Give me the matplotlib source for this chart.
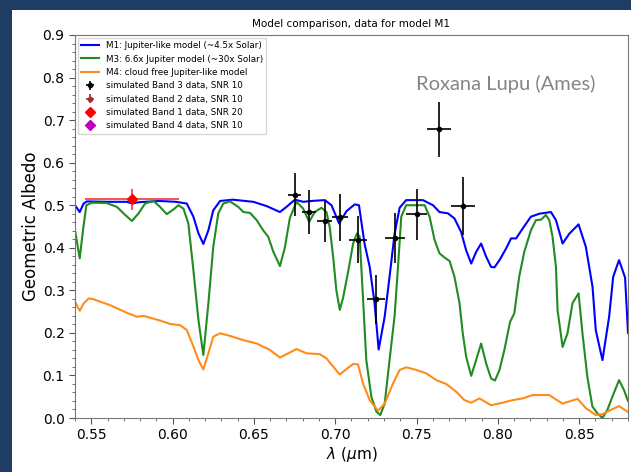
import numpy as np
import matplotlib.pyplot as plt
from matplotlib.patches import Rectangle
from matplotlib.ticker import MultipleLocator

# model albedo spectra: (wavelength [um], geometric albedo)
m1_spec = [(0.540, 0.500), (0.5429, 0.484), (0.5453, 0.504), (0.5474, 0.509), (0.560, 0.508),
           (0.572, 0.508), (0.575, 0.504), (0.579, 0.507), (0.592, 0.510), (0.602, 0.508),
           (0.6087, 0.504), (0.6128, 0.473), (0.6159, 0.434), (0.6189, 0.409), (0.622, 0.441),
           (0.625, 0.488), (0.6292, 0.510), (0.637, 0.513), (0.6496, 0.508), (0.6578, 0.498),
           (0.666, 0.484), (0.670, 0.496), (0.6752, 0.513), (0.6803, 0.508), (0.6854, 0.510),
           (0.6936, 0.512), (0.6977, 0.500), (0.7024, 0.457), (0.7069, 0.486), (0.7120, 0.502),
           (0.7146, 0.500), (0.718, 0.410), (0.7212, 0.355), (0.7242, 0.269), (0.7267, 0.161),
           (0.7304, 0.238), (0.7334, 0.332), (0.7365, 0.433), (0.7396, 0.494), (0.7436, 0.512),
           (0.7539, 0.512), (0.7601, 0.500), (0.7641, 0.484), (0.7692, 0.481), (0.7733, 0.469),
           (0.7774, 0.437), (0.7805, 0.394), (0.7836, 0.363), (0.7866, 0.390), (0.7897, 0.410),
           (0.7928, 0.379), (0.7958, 0.355), (0.7979, 0.354), (0.801, 0.371), (0.805, 0.398),
           (0.8081, 0.422), (0.8112, 0.422), (0.8152, 0.445), (0.8203, 0.473), (0.8255, 0.480),
           (0.8326, 0.484), (0.8357, 0.465), (0.8398, 0.410), (0.8439, 0.433), (0.8496, 0.455),
           (0.8541, 0.402), (0.8582, 0.308), (0.8602, 0.206), (0.8643, 0.136), (0.8684, 0.238),
           (0.8709, 0.332), (0.8745, 0.371), (0.8782, 0.330), (0.8796, 0.230), (0.880, 0.200)]

m3_spec = [(0.540, 0.441), (0.5429, 0.375), (0.5449, 0.441), (0.547, 0.500), (0.5504, 0.506),
           (0.5596, 0.505), (0.5658, 0.496), (0.5709, 0.477), (0.575, 0.463), (0.5791, 0.481),
           (0.5831, 0.504), (0.5883, 0.510), (0.5923, 0.496), (0.5964, 0.479), (0.6005, 0.490),
           (0.6036, 0.500), (0.6067, 0.492), (0.6097, 0.457), (0.6128, 0.347), (0.6159, 0.230),
           (0.6189, 0.148), (0.622, 0.269), (0.625, 0.402), (0.6281, 0.481), (0.6312, 0.504),
           (0.6353, 0.509), (0.6404, 0.496), (0.6435, 0.484), (0.6476, 0.482), (0.6517, 0.465),
           (0.6557, 0.441), (0.6588, 0.426), (0.6619, 0.391), (0.666, 0.357), (0.669, 0.400),
           (0.6721, 0.470), (0.6762, 0.508), (0.6803, 0.492), (0.684, 0.461), (0.6874, 0.484),
           (0.6915, 0.494), (0.6946, 0.484), (0.6966, 0.449), (0.6987, 0.379), (0.7007, 0.300),
           (0.7028, 0.254), (0.7048, 0.282), (0.7079, 0.343), (0.711, 0.410), (0.7134, 0.434),
           (0.715, 0.426), (0.7171, 0.280), (0.7191, 0.136), (0.7222, 0.050), (0.7253, 0.015),
           (0.7277, 0.007), (0.7304, 0.034), (0.7334, 0.136), (0.7365, 0.240), (0.7385, 0.350),
           (0.7406, 0.473), (0.7436, 0.500), (0.7550, 0.500), (0.758, 0.473), (0.7611, 0.418),
           (0.7641, 0.387), (0.7672, 0.377), (0.7703, 0.369), (0.7733, 0.332), (0.7764, 0.270),
           (0.7784, 0.199), (0.7805, 0.144), (0.7836, 0.099), (0.7866, 0.136), (0.7897, 0.175),
           (0.7928, 0.128), (0.7958, 0.093), (0.7982, 0.088), (0.801, 0.113), (0.804, 0.160),
           (0.8075, 0.226), (0.8101, 0.246), (0.8131, 0.332), (0.8162, 0.390), (0.8203, 0.441),
           (0.8234, 0.465), (0.8265, 0.466), (0.8295, 0.477), (0.8316, 0.465), (0.8336, 0.426),
           (0.8357, 0.355), (0.8367, 0.253), (0.8398, 0.167), (0.8428, 0.199), (0.8459, 0.270),
           (0.8496, 0.293), (0.852, 0.199), (0.855, 0.097), (0.8581, 0.027), (0.8612, 0.011),
           (0.8643, 0.000), (0.8673, 0.019), (0.8704, 0.050), (0.8745, 0.089), (0.8775, 0.066),
           (0.880, 0.040)]

m4_spec = [(0.540, 0.273), (0.5429, 0.252), (0.5453, 0.269), (0.5484, 0.281), (0.5514, 0.279),
           (0.5617, 0.265), (0.572, 0.247), (0.5781, 0.238), (0.5821, 0.240), (0.5923, 0.229),
           (0.5985, 0.221), (0.6046, 0.218), (0.6087, 0.207), (0.6128, 0.168), (0.6159, 0.136),
           (0.6189, 0.114), (0.622, 0.152), (0.625, 0.191), (0.6292, 0.199), (0.6353, 0.193),
           (0.6435, 0.183), (0.6517, 0.175), (0.6598, 0.160), (0.666, 0.142), (0.6711, 0.152),
           (0.6762, 0.162), (0.6823, 0.152), (0.6905, 0.150), (0.6946, 0.140), (0.6987, 0.121),
           (0.7028, 0.102), (0.7069, 0.115), (0.711, 0.127), (0.714, 0.126), (0.7171, 0.081),
           (0.7212, 0.042), (0.7263, 0.017), (0.7304, 0.034), (0.7355, 0.081), (0.7396, 0.113),
           (0.7437, 0.119), (0.7498, 0.113), (0.7559, 0.105), (0.7621, 0.089), (0.7682, 0.080),
           (0.7743, 0.062), (0.7794, 0.042), (0.7836, 0.036), (0.7887, 0.046), (0.7958, 0.030),
           (0.803, 0.036), (0.8091, 0.042), (0.8152, 0.046), (0.8214, 0.054), (0.8316, 0.054),
           (0.8347, 0.046), (0.8398, 0.034), (0.849, 0.045), (0.8541, 0.023), (0.8602, 0.007),
           (0.8643, 0.009), (0.8694, 0.019), (0.8745, 0.028), (0.8796, 0.015)]

# simulated observations
band3_wl = [0.675, 0.684, 0.6935, 0.703, 0.714, 0.725, 0.737, 0.750, 0.7637, 0.7788]
band3_alb = [0.525, 0.484, 0.462, 0.472, 0.419, 0.279, 0.423, 0.479, 0.678, 0.499]
band3_xerr = [0.0041, 0.0043, 0.0047, 0.0051, 0.0055, 0.0057, 0.0061, 0.0067, 0.0074, 0.0074]
band3_yerr = [0.050, 0.051, 0.049, 0.055, 0.055, 0.057, 0.058, 0.060, 0.065, 0.068]

band2_wl, band2_alb, band2_xerr, band2_yerr = [], [], [], []

band1_wl = [0.575]
band1_alb = [0.514]
band1_xerr = [0.0287]
band1_yerr = [0.025]

band4_wl, band4_alb, band4_xerr, band4_yerr = [], [], [], []

fig = plt.figure(figsize=(6.31, 4.72), dpi=100, facecolor='white')
# slide background showing at the left and top edges
fig.patches.append(Rectangle((0, 0), 12 / 631, 1, transform=fig.transFigure,
                             facecolor='#1f3c62', edgecolor='none'))
fig.patches.append(Rectangle((0, 1 - 10 / 472), 1, 10 / 472, transform=fig.transFigure,
                             facecolor='#1f3c62', edgecolor='none'))
ax = fig.add_axes([75 / 631, 54 / 472, 553 / 631, 383 / 472])

for spec, col, lab in [(m1_spec, 'blue', 'M1: Jupiter-like model (~4.5x Solar)'),
                       (m3_spec, '#228b22', 'M3: 6.6x Jupiter model (~30x Solar)'),
                       (m4_spec, '#ff8c1a', 'M4: cloud free Jupiter-like model')]:
    wl, alb = np.array(spec).T
    ax.plot(wl, alb, color=col, lw=1.5, label=lab)

ax.errorbar(band3_wl, band3_alb, xerr=band3_xerr, yerr=band3_yerr, fmt='o', color='black',
            ms=3, elinewidth=1.2, label='simulated Band 3 data, SNR 10')
ax.errorbar(band2_wl, band2_alb, xerr=band2_xerr, yerr=band2_yerr, fmt='o', color='brown',
            ms=3, elinewidth=1.2, label='simulated Band 2 data, SNR 10')
ax.errorbar(band1_wl, band1_alb, xerr=band1_xerr, yerr=band1_yerr, fmt='D', color='red',
            ecolor='#f05a5a', ms=5, elinewidth=1.5, label='simulated Band 1 data, SNR 20')
ax.errorbar(band4_wl, band4_alb, xerr=band4_xerr, yerr=band4_yerr, fmt='D', color='m',
            ms=5, elinewidth=1.5, label='simulated Band 4 data, SNR 10')

ax.set_xlim(0.54, 0.88)
ax.set_ylim(0.0, 0.9)
ax.xaxis.set_major_locator(MultipleLocator(0.05))
ax.xaxis.set_minor_locator(MultipleLocator(0.01))
ax.yaxis.set_major_locator(MultipleLocator(0.1))
ax.yaxis.set_minor_locator(MultipleLocator(0.02))
ax.tick_params(which='both', top=False, right=False, color='#555555', labelsize=10)
ax.tick_params(which='major', length=4)
ax.tick_params(which='minor', length=2)
for s in ax.spines.values():
    s.set_color('#777777')

ax.set_title('Model comparison, data for model M1', fontsize=7.5)
ax.set_xlabel(r'$\lambda$ ($\mu$m)', fontsize=11, labelpad=2)
ax.set_ylabel('Geometric Albedo', fontsize=12, labelpad=2)
ax.legend(loc='upper left', fontsize=6.3, borderaxespad=0.3, framealpha=0.8)

ax.text(0.805, 0.784, 'Roxana Lupu (Ames)', fontsize=14.5, color='#858585', family='Lato',
        ha='center', va='center')

fig.savefig('out.png', dpi=100)
